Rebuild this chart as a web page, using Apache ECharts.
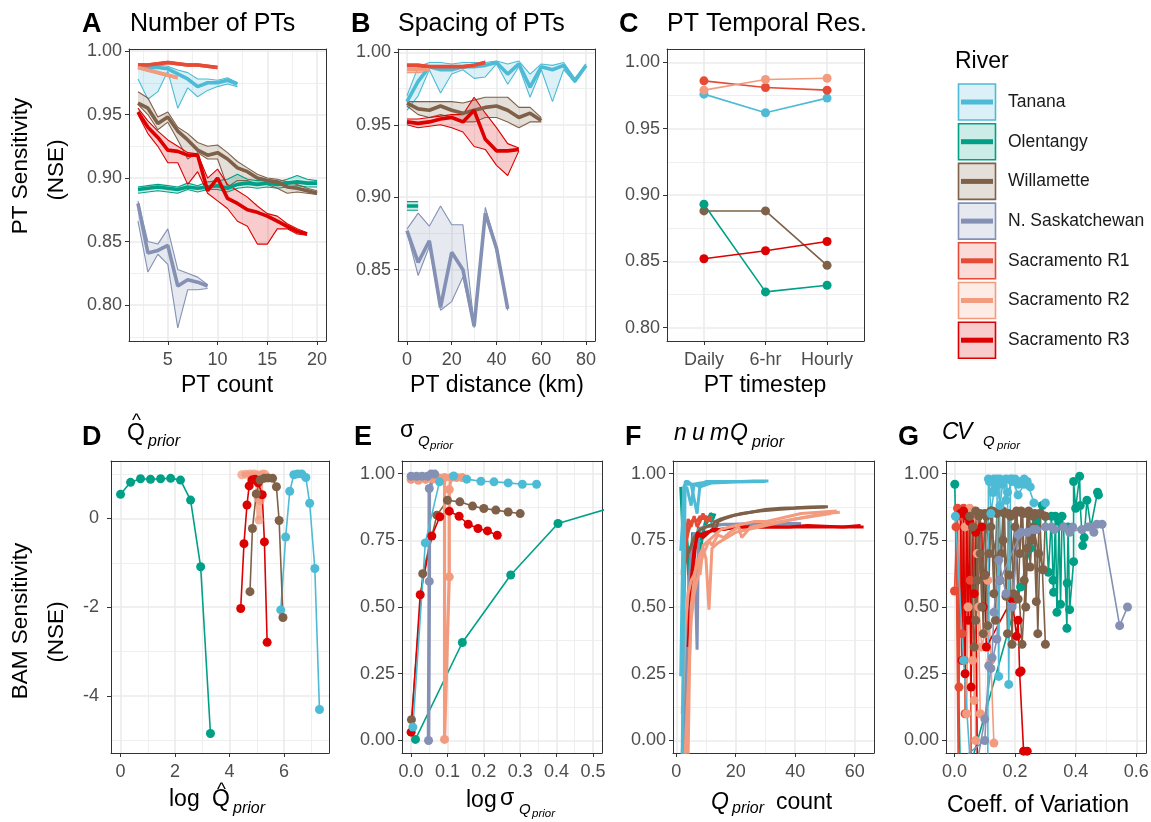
<!DOCTYPE html>
<html>
<head>
<meta charset="utf-8">
<script src="https://cdn.jsdelivr.net/npm/echarts@6/dist/echarts.min.js"></script>
<style>
  html, body { margin: 0; padding: 0; background: #fff; }
  #chart { width: 1151px; height: 822px; }
</style>
</head>
<body>
<div id="chart"></div>
<script>
const FONT = '"Liberation Sans", Arial, sans-serif';

const rivers = ['Tanana', 'Olentangy', 'Willamette', 'N. Saskatchewan', 'Sacramento R1', 'Sacramento R2', 'Sacramento R3'];
const riverColors = ['#4DBBD5', '#00A087', '#7E6148', '#8491B4', '#E64B35', '#F39B7F', '#DC0000'];

// ---- A: number of PTs, rows [count, low, median, high]
const aTanana = [[2,0.978,0.988,0.990],[3,0.962,0.987,0.989],[4,0.968,0.987,0.989],[5,0.984,0.986,0.988],[6,0.955,0.982,0.985],[7,0.971,0.978,0.983],[8,0.964,0.972,0.978],[9,0.969,0.975,0.978],[10,0.972,0.975,0.977],[11,0.974,0.977,0.979],[12,0.972,0.974,0.975]];
const aOlentangy = [[2,0.888,0.891,0.893],[3,0.889,0.892,0.894],[4,0.890,0.893,0.895],[5,0.889,0.892,0.894],[6,0.888,0.891,0.893],[7,0.891,0.893,0.896],[8,0.889,0.892,0.894],[9,0.891,0.893,0.897],[10,0.891,0.894,0.898],[11,0.889,0.892,0.899],[12,0.892,0.895,0.903],[13,0.893,0.896,0.899],[14,0.892,0.895,0.898],[15,0.893,0.896,0.898],[16,0.892,0.895,0.897],[17,0.893,0.896,0.899],[18,0.894,0.897,0.902],[19,0.893,0.896,0.899],[20,0.893,0.896,0.898]];
const aWillamette = [[2,0.958,0.959,0.968],[3,0.950,0.955,0.963],[4,0.938,0.943,0.948],[5,0.944,0.948,0.952],[6,0.930,0.937,0.940],[7,0.915,0.930,0.935],[8,0.920,0.922,0.928],[9,0.915,0.918,0.925],[10,0.915,0.920,0.926],[11,0.893,0.915,0.920],[12,0.898,0.908,0.913],[13,0.898,0.905,0.908],[14,0.895,0.900,0.903],[15,0.895,0.898,0.900],[16,0.892,0.897,0.899],[17,0.888,0.893,0.897],[18,0.889,0.892,0.895],[19,0.888,0.890,0.892],[20,0.887,0.888,0.890]];
const aNSask = [[2,0.866,0.880,0.882],[3,0.826,0.841,0.850],[4,0.840,0.843,0.848],[5,0.832,0.847,0.860],[6,0.782,0.815,0.828],[7,0.812,0.820,0.825],[8,0.812,0.818,0.822],[9,0.813,0.815,0.816]];
const aSacR1 = [[2,0.988,0.989,0.990],[3,0.988,0.989,0.990],[4,0.989,0.990,0.991],[5,0.990,0.991,0.992],[6,0.989,0.990,0.991],[7,0.988,0.989,0.990],[8,0.988,0.989,0.990],[9,0.987,0.988,0.989],[10,0.986,0.987,0.988]];
const aSacR2 = [[2,0.986,0.987,0.988],[3,0.984,0.985,0.986],[4,0.982,0.983,0.984],[5,0.980,0.981,0.982],[6,0.978,0.979,0.980]];
const aSacR3 = [[2,0.950,0.952,0.955],[3,0.935,0.940,0.945],[4,0.925,0.932,0.937],[5,0.912,0.922,0.930],[6,0.912,0.921,0.925],[7,0.895,0.918,0.920],[8,0.905,0.918,0.919],[9,0.888,0.890,0.900],[10,0.882,0.900,0.907],[11,0.876,0.884,0.895],[12,0.866,0.880,0.890],[13,0.862,0.875,0.885],[14,0.848,0.873,0.878],[15,0.848,0.870,0.872],[16,0.860,0.866,0.870],[17,0.860,0.862,0.864],[18,0.856,0.858,0.860],[19,0.855,0.856,0.857]];

// ---- B: spacing of PTs, rows [km, low, median, high]
const bTanana = [[0,0.960,0.966,0.970],[5,0.970,0.980,0.990],[10,0.988,0.990,0.993],[15,0.972,0.988,0.993],[20,0.985,0.988,0.992],[25,0.988,0.990,0.993],[30,0.982,0.990,0.993],[35,0.983,0.991,0.993],[40,0.992,0.993,0.994],[45,0.978,0.985,0.992],[50,0.990,0.992,0.994],[55,0.969,0.976,0.985],[60,0.988,0.990,0.992],[65,0.966,0.988,0.991],[70,0.988,0.991,0.993],[75,0.979,0.980,0.982],[80,0.990,0.991,0.992]];
const bOlentangy = [[0,0.891,0.894,0.897],[5,0.891,0.894,0.897]];
const bWillamette = [[0,0.963,0.965,0.966],[5,0.957,0.961,0.966],[10,0.955,0.960,0.966],[15,0.957,0.963,0.966],[20,0.955,0.960,0.966],[25,0.952,0.958,0.965],[30,0.952,0.960,0.967],[35,0.955,0.962,0.969],[40,0.955,0.963,0.969],[45,0.952,0.960,0.969],[50,0.948,0.955,0.962],[55,0.952,0.958,0.962],[60,0.952,0.953,0.955]];
const bNSask = [[0,0.876,0.877,0.878],[5,0.846,0.855,0.889],[10,0.866,0.870,0.880],[15,0.822,0.824,0.894],[20,0.828,0.862,0.881],[25,0.845,0.850,0.881],[30,0.810,0.811,0.812],[35,0.888,0.889,0.893],[40,0.862,0.865,0.866],[45,0.822,0.823,0.824]];
const bSacR1 = [[0,0.990,0.991,0.992],[5,0.990,0.991,0.992],[10,0.989,0.990,0.991],[15,0.989,0.990,0.991],[20,0.989,0.990,0.991],[25,0.989,0.990,0.991],[30,0.990,0.991,0.992],[35,0.992,0.993,0.994]];
const bSacR2 = [[0,0.986,0.988,0.989],[5,0.986,0.988,0.989],[10,0.987,0.988,0.989]];
const bSacR3 = [[0,0.950,0.952,0.954],[5,0.948,0.951,0.954],[10,0.949,0.952,0.955],[15,0.950,0.954,0.956],[20,0.948,0.955,0.957],[25,0.945,0.952,0.957],[30,0.935,0.960,0.969],[35,0.933,0.940,0.958],[40,0.922,0.932,0.948],[45,0.915,0.932,0.937],[50,0.932,0.933,0.934]];

// ---- C: PT temporal resolution
const cSteps = ['Daily', '6-hr', 'Hourly'];
const cTanana = [0.976, 0.962, 0.973];
const cOlentangy = [0.893, 0.827, 0.832];
const cWillamette = [0.888, 0.888, 0.847];
const cSacR1 = [0.986, 0.981, 0.979];
const cSacR2 = [0.979, 0.987, 0.988];
const cSacR3 = [0.852, 0.858, 0.865];

// ---- D: log Qhat prior, rows [x, NSE]
const dOlentangy = [[0,0.54],[0.367,0.81],[0.734,0.89],[1.10,0.88],[1.47,0.89],[1.84,0.90],[2.20,0.86],[2.57,0.41],[2.94,-1.09],[3.30,-4.84]];
const dTanana = [[5.88,-2.06],[6.06,-0.42],[6.21,0.61],[6.36,0.98],[6.50,1.0],[6.65,1.0],[6.80,0.92],[6.94,0.34],[7.13,-1.13],[7.30,-4.30]];
const dSacR2 = [[4.45,0.98],[4.6,0.99],[4.75,1.0],[4.9,1.0],[5.02,0.98],[5.05,0.45],[5.08,-0.04],[5.12,0.40],[5.15,0.97],[5.22,1.0],[5.30,0.99]];
const dSacR3 = [[4.41,-2.03],[4.53,-0.57],[4.64,0.30],[4.72,0.73],[4.82,0.86],[4.93,0.88],[5.05,0.80],[5.20,0.53],[5.28,-0.53],[5.38,-2.79]];
const dWillamette = [[4.75,-1.65],[4.84,-0.23],[4.98,0.55],[5.12,0.86],[5.27,0.90],[5.42,0.91],[5.58,0.90],[5.72,0.71],[5.82,-0.05],[5.96,-2.23]];

// ---- E: log sigma Q prior
const eOlentangy = [[0.012,0.004],[0.141,0.367],[0.274,0.62],[0.404,0.813],[0.54,0.868]];
const eWillamette = [[0.001,0.078],[0.032,0.625],[0.071,0.844],[0.10,0.90],[0.134,0.894],[0.169,0.878],[0.20,0.869],[0.233,0.863],[0.267,0.856],[0.30,0.85]];
const eSacR3 = [[0,0.031],[0.025,0.546],[0.057,0.766],[0.079,0.838],[0.105,0.859],[0.132,0.84],[0.157,0.81],[0.184,0.794],[0.21,0.785],[0.237,0.769]];
const eSacR2 = [[0,0.978],[0.02,0.975],[0.04,0.978],[0.06,0.98],[0.08,0.982],[0.092,0.985],[0.092,0.004],[0.105,0.613],[0.105,0.94],[0.11,0.985],[0.125,0.985],[0.14,0.985]];
const eNSask = [[0,0.99],[0.015,0.99],[0.03,0.99],[0.045,0.99],[0.055,0.998],[0.065,0.998],[0.05,0.944],[0.05,0.596],[0.048,0.0]];
const eTanana = [[0.005,0.05],[0.039,0.74],[0.078,0.969],[0.117,0.991],[0.153,0.979],[0.192,0.971],[0.228,0.969],[0.267,0.965],[0.306,0.96],[0.345,0.96]];

// ---- F: number of Q prior values
const fOlentangy1 = [[1.5,0.95],[2.5,0.71],[3.5,0.75],[4.5,0.55],[5.5,0.78],[6.5,0.72],[7.5,0.80],[8.5,0.75],[9.5,0.80],[10.5,0.82],[11.5,0.85],[13,0.84]];
const fOlentangy2 = [[2,0.63],[3,0.80],[4,0.70],[5,0.58],[6,0.75],[7,0.76],[8,0.70],[9,0.78],[10,0.83],[12,0.82],[13,0.85]];
const fNSask1 = [[2,-0.05],[3,0.2],[4,0.55],[5,0.7],[6,0.78],[7,0.34],[7.5,0.79],[9,0.80],[12,0.805],[16,0.81],[20,0.81],[25,0.812],[30,0.812],[36,0.813],[42,0.813]];
const fNSask2 = [[3,-0.05],[4,0.45],[5,0.6],[6,0.75],[8,0.79],[10,0.80],[15,0.808],[22,0.81],[30,0.812],[40,0.812]];
const fWillamette1 = [[2,0.63],[4,0.70],[6,0.76],[8,0.79],[10,0.80],[12,0.81],[13,0.78],[14,0.82],[16,0.83],[20,0.845],[25,0.855],[30,0.865],[35,0.87],[40,0.872],[45,0.875],[51,0.876]];
const fWillamette2 = [[12,0.80],[13,0.82],[15,0.83],[18,0.84],[22,0.85],[28,0.86],[34,0.865],[40,0.87],[46,0.873],[50,0.875]];
const fSacR3a = [[4,0.35],[5,0.60],[6,0.72],[7,0.76],[8,0.77],[10,0.78],[14,0.79],[18,0.795],[22,0.80],[28,0.80],[34,0.80],[40,0.80],[46,0.80],[52,0.80],[58,0.80],[63,0.80]];
const fSacR3b = [[5,0.5],[6,0.68],[7,0.78],[9,0.76],[12,0.79],[16,0.79],[20,0.80],[26,0.80],[32,0.80],[38,0.80],[44,0.805],[50,0.803],[56,0.80],[62,0.805]];
const fSacR1a = [[1.5,0.48],[2.5,0.48],[3,0.72],[4,0.78],[5,0.82],[6,0.83],[7,0.82],[8,0.84],[9,0.83],[10,0.84],[11,0.83],[12,0.84]];
const fSacR1b = [[2,0.62],[3,0.75],[4,0.83],[5,0.80],[6,0.84],[7,0.80],[8,0.82],[9,0.85],[10,0.82],[12,0.83]];
const fSacR2a = [[2,0.1],[3,0.43],[4,0.55],[5,0.60],[6,0.62],[7,0.66],[8,0.70],[9,0.72],[10,0.68],[11,0.49],[12,0.72],[14,0.74],[17,0.76],[20,0.78],[24,0.79],[28,0.80],[32,0.81],[36,0.82],[40,0.83],[45,0.84],[50,0.85],[55,0.855]];
const fSacR2b = [[3,-0.05],[4,0.2],[5,0.45],[6,0.55],[7,0.6],[8,0.65],[9,0.7],[10,0.72],[11,0.75],[12,0.73],[14,0.77],[16,0.76],[18,0.78],[21,0.80],[22,0.76],[25,0.80],[30,0.81],[35,0.82],[40,0.83],[46,0.84],[52,0.85]];
const fSacR2c = [[4,-0.05],[4.5,0.3],[5,0.5],[6,0.6],[7,0.68],[8,0.62],[9,0.73],[10,0.74],[12,0.76],[15,0.79],[18,0.80],[22,0.81],[26,0.82],[30,0.82],[34,0.83],[38,0.84],[42,0.85],[48,0.855],[54,0.86]];
const fTanana1 = [[1.5,0.24],[2.5,0.95],[3,0.96],[4,0.96],[6,0.96],[8,0.965],[10,0.965],[14,0.968],[18,0.97],[22,0.97],[26,0.972],[31,0.972]];
const fTanana2 = [[1.5,0.71],[2,0.80],[2.5,0.93],[3.5,0.95],[5,0.88],[6,0.96],[8,0.95],[12,0.965],[20,0.968],[30,0.97]];
const fTanana3 = [[2,-0.05],[2.5,0.50],[3,0.97],[4,0.97],[5,0.96],[7,0.85],[8,0.96],[10,0.97],[16,0.97],[24,0.97]];

// ---- G: coefficient of variation of Q prior
const gWillamette1 = [[0.06,0.80],[0.07,0.45],[0.08,0.84],[0.09,0.50],[0.10,0.85],[0.11,0.43],[0.12,0.86],[0.13,0.55],[0.14,0.85],[0.15,0.60],[0.16,0.86],[0.17,0.54],[0.18,0.85],[0.19,0.36],[0.20,0.85],[0.21,0.53],[0.22,0.86],[0.23,0.60],[0.24,0.85],[0.25,0.65],[0.26,0.84],[0.27,0.52],[0.28,0.85],[0.29,0.64],[0.30,0.36]];
const gWillamette2 = [[0.05,0.84],[0.065,0.35],[0.085,0.70],[0.10,0.62],[0.12,0.80],[0.14,0.68],[0.16,0.75],[0.18,0.62],[0.20,0.80],[0.223,0.36],[0.24,0.72],[0.26,0.80],[0.278,0.70],[0.294,0.64],[0.30,0.84]];
const gWillamette3 = [[0.07,0.86],[0.075,0.60],[0.085,0.85],[0.095,0.40],[0.105,0.84],[0.115,0.70],[0.125,0.86],[0.135,0.45],[0.145,0.86],[0.155,0.70],[0.165,0.85],[0.175,0.40],[0.185,0.84],[0.195,0.55],[0.205,0.86],[0.215,0.70],[0.225,0.85],[0.235,0.50],[0.245,0.86],[0.255,0.75],[0.265,0.85],[0.275,0.40],[0.285,0.85]];
const gOlentangy1 = [[0.001,0.96],[0.018,-0.05]];
const gOlentangy2 = [[0.064,-0.05],[0.218,0.575],[0.25,0.72],[0.27,0.82],[0.29,0.88]];
const gOlentangy3 = [[0.30,0.84],[0.31,0.63],[0.32,0.84],[0.325,0.60],[0.327,0.555],[0.333,0.84],[0.338,0.48],[0.345,0.82],[0.35,0.51],[0.355,0.84]];
const gOlentangy4 = [[0.36,0.80],[0.371,0.42],[0.372,0.59],[0.375,0.80],[0.38,0.49],[0.393,0.67],[0.393,0.97],[0.40,0.87],[0.413,0.99],[0.415,0.88],[0.423,0.73],[0.428,0.76],[0.437,0.90],[0.45,0.80],[0.472,0.93],[0.475,0.92]];
const gSacR1a = [[0.0,0.56],[0.01,0.87],[0.015,0.2],[0.02,0.86],[0.025,0.4],[0.03,0.87],[0.035,0.1],[0.04,0.86],[0.045,0.5],[0.05,0.85],[0.055,-0.05]];
const gSacR1b = [[0.005,0.8],[0.012,-0.05],[0.022,0.84],[0.032,0.3],[0.042,0.85],[0.052,0.6]];
const gSacR2a = [[0.03,0.85],[0.04,0.1],[0.05,0.87],[0.06,0.3],[0.065,0.86],[0.07,0.0],[0.075,0.84],[0.08,0.5],[0.09,0.35],[0.10,0.40],[0.11,0.60],[0.12,0.30],[0.13,-0.01]];
const gSacR2b = [[0.035,0.80],[0.045,0.50],[0.055,0.85],[0.065,0.15],[0.075,0.7],[0.085,0.1]];
const gSacR3a = [[0.02,0.85],[0.025,0.3],[0.03,0.86],[0.035,0.25],[0.04,0.84],[0.045,0.45],[0.05,0.82],[0.055,0.2],[0.06,0.80],[0.065,0.55],[0.07,0.78],[0.075,-0.05]];
const gSacR3b = [[0.09,0.80],[0.095,0.50],[0.10,0.62],[0.105,0.35],[0.19,0.53],[0.205,0.39],[0.21,0.45],[0.215,0.255],[0.22,0.26],[0.228,-0.04],[0.24,-0.04]];
const gNSask1 = [[0.045,-0.05],[0.10,0.0],[0.113,0.28],[0.124,0.31],[0.13,0.48],[0.146,0.675],[0.17,0.55],[0.19,0.50],[0.21,0.77],[0.24,0.78],[0.27,0.79],[0.30,0.80],[0.33,0.79],[0.36,0.80],[0.39,0.80],[0.42,0.79],[0.45,0.80],[0.47,0.81],[0.487,0.81],[0.545,0.43],[0.571,0.50]];
const gNSask2 = [[0.08,-0.05],[0.1,0.08],[0.12,0.27],[0.14,0.38],[0.15,0.60],[0.22,0.78],[0.26,0.79],[0.32,0.80],[0.38,0.78],[0.44,0.80],[0.46,0.78]];
const gTanana1 = [[0.003,0.84],[0.03,0.30],[0.05,-0.05]];
const gTanana2 = [[0.11,-0.05],[0.112,0.98],[0.12,0.97],[0.125,0.93],[0.13,0.98],[0.135,0.95],[0.14,0.98],[0.146,0.24],[0.15,0.98],[0.16,0.96],[0.17,0.98],[0.175,0.93],[0.179,0.21],[0.185,0.98],[0.19,0.97],[0.20,0.98],[0.21,0.96],[0.22,0.97],[0.23,0.98],[0.24,0.97],[0.262,0.89],[0.30,0.89]];
const gTanana3 = [[0.115,0.97],[0.12,0.85],[0.13,0.93],[0.14,0.97],[0.15,0.88],[0.16,0.97],[0.17,0.90],[0.19,0.98],[0.21,0.92],[0.23,0.96],[0.25,0.95]];

// ---- tick values
const nseTicks = [0.80, 0.85, 0.90, 0.95, 1.00];
const nseMinor = [0.775, 0.825, 0.875, 0.925, 0.975];
const unitTicks = [0, 0.25, 0.5, 0.75, 1];
const unitMinor = [0.125, 0.375, 0.625, 0.875];

// ---------------------------------------------------------------
const col = name => riverColors[rivers.indexOf(name)];
function fade(hex, a) {
  const n = parseInt(hex.slice(1), 16);
  return 'rgba(' + (n >> 16) + ',' + ((n >> 8) & 255) + ',' + (n & 255) + ',' + a + ')';
}
const f2 = v => v.toFixed(2);
const f1 = v => v.toFixed(1);
const f0 = v => String(v);

const grids = [
  { left: 129, top: 49, width: 197, height: 292 },
  { left: 398, top: 49, width: 197, height: 292 },
  { left: 667, top: 49, width: 197, height: 292 },
  { left: 111, top: 461, width: 218, height: 292 },
  { left: 402, top: 461, width: 200, height: 292 },
  { left: 673, top: 461, width: 201, height: 292 },
  { left: 946, top: 461, width: 200, height: 292 }
];

// [min, max, major ticks, minor ticks, formatter, label margin] per panel
const xSpecs = [
  [1.1, 20.9, [5, 10, 15, 20], [2.5, 7.5, 12.5, 17.5], f0, 10],
  [-4, 84, [0, 20, 40, 60, 80], [10, 30, 50, 70], f0, 10],
  [0.4, 3.6, [1, 2, 3], [], v => cSteps[Math.round(v) - 1], 10],
  [-0.35, 7.65, [0, 2, 4, 6], [1, 3, 5, 7], f0, 10],
  [-0.025, 0.525, [0, 0.1, 0.2, 0.3, 0.4, 0.5], [0.05, 0.15, 0.25, 0.35, 0.45], f1, 10],
  [-1.1, 66.5, [0, 20, 40, 60], [10, 30, 50], f0, 10],
  [-0.028, 0.632, [0, 0.2, 0.4, 0.6], [0.1, 0.3, 0.5], f1, 10]
];
const ySpecs = [
  [0.7717, 1.0016, nseTicks, nseMinor, f2, 7],
  [0.8008, 1.0023, nseTicks.slice(1), nseMinor.slice(1), f2, 7],
  [0.79, 1.01, nseTicks, nseMinor, f2, 7],
  [-5.28, 1.29, [-4, -2, 0], [-5, -3, -1, 1], f0, 12],
  [-0.047, 1.047, unitTicks, unitMinor, f2, 7],
  [-0.047, 1.047, unitTicks, unitMinor, f2, 7],
  [-0.047, 1.047, unitTicks, unitMinor, f2, 7]
];

function axisPair(g, dim, spec) {
  const [min, max, major, minor, fmt, margin] = spec;
  const border = { show: true, onZero: false, lineStyle: { color: '#333333', width: 1 } };
  const main = {
    type: 'value', gridIndex: g, min, max, silent: true,
    position: dim === 'x' ? 'bottom' : 'left',
    axisLine: border,
    axisTick: { show: true, length: 4, customValues: major, lineStyle: { color: '#333333', width: 1 } },
    axisLabel: { show: true, customValues: major, formatter: fmt, color: '#4D4D4D', fontSize: 18, fontFamily: FONT, margin },
    splitLine: { show: true, lineStyle: { color: '#EBEBEB', width: 1.6 } }
  };
  const sub = {
    type: 'value', gridIndex: g, min, max, silent: true,
    position: dim === 'x' ? 'top' : 'right',
    axisLine: border,
    axisTick: { show: false, customValues: minor },
    axisLabel: { show: false },
    splitLine: { show: minor.length > 0, lineStyle: { color: '#EBEBEB', width: 0.8 } }
  };
  return [main, sub];
}

const xAxis = [], yAxis = [];
grids.forEach((g, i) => {
  xAxis.push(...axisPair(i, 'x', xSpecs[i]));
  yAxis.push(...axisPair(i, 'y', ySpecs[i]));
});

const series = [];
function lineS(g, data, color, width, z, sym, opacity) {
  return {
    type: 'line', xAxisIndex: 2 * g, yAxisIndex: 2 * g, data, z, silent: true,
    showSymbol: !!sym, symbol: 'circle', symbolSize: sym || 0,
    itemStyle: { color, opacity: opacity || 1 },
    lineStyle: { color, width, opacity: opacity || 1 },
    emphasis: { disabled: true }
  };
}
function addRibbon(g, name, rows) {
  const c = col(name);
  series.push({
    type: 'custom', xAxisIndex: 2 * g, yAxisIndex: 2 * g, z: 1, silent: true,
    data: [[rows[0][0], rows[0][2]]],
    renderItem: function (params, api) {
      const up = rows.map(r => api.coord([r[0], r[3]]));
      const dn = rows.slice().reverse().map(r => api.coord([r[0], r[1]]));
      return { type: 'polygon', shape: { points: up.concat(dn) }, style: { fill: fade(c, 0.2), stroke: null } };
    }
  });
  series.push(lineS(g, rows.map(r => [r[0], r[1]]), c, 1.1, 2));
  series.push(lineS(g, rows.map(r => [r[0], r[3]]), c, 1.1, 2));
}
function addMedian(g, name, rows) {
  series.push(lineS(g, rows.map(r => [r[0], r[2]]), col(name), 3.6, 3));
}

// A and B
const aSets = [['Tanana', aTanana], ['Olentangy', aOlentangy], ['Willamette', aWillamette], ['N. Saskatchewan', aNSask], ['Sacramento R1', aSacR1], ['Sacramento R2', aSacR2], ['Sacramento R3', aSacR3]];
const bSets = [['Tanana', bTanana], ['Olentangy', bOlentangy], ['Willamette', bWillamette], ['N. Saskatchewan', bNSask], ['Sacramento R1', bSacR1], ['Sacramento R2', bSacR2], ['Sacramento R3', bSacR3]];
aSets.forEach(s => addRibbon(0, s[0], s[1]));
aSets.forEach(s => addMedian(0, s[0], s[1]));
bSets.forEach(s => addRibbon(1, s[0], s[1]));
bSets.forEach(s => addMedian(1, s[0], s[1]));

// C
[['Tanana', cTanana], ['Willamette', cWillamette], ['Olentangy', cOlentangy], ['Sacramento R1', cSacR1], ['Sacramento R2', cSacR2], ['Sacramento R3', cSacR3]]
  .forEach(s => series.push(lineS(2, s[1].map((v, i) => [i + 1, v]), col(s[0]), 1.6, 3, 9)));

// D
series.push(lineS(3, dOlentangy, col('Olentangy'), 1.6, 3, 9));
series.push(lineS(3, dTanana, col('Tanana'), 1.6, 3, 9));
series.push(lineS(3, dSacR2, col('Sacramento R2'), 5, 3, 9, 0.75));
series.push(lineS(3, dSacR3, col('Sacramento R3'), 1.6, 3, 9));
series.push(lineS(3, dWillamette, col('Willamette'), 1.6, 3, 9));

// E
series.push(lineS(4, eOlentangy, col('Olentangy'), 1.6, 3, 9));
series.push(lineS(4, eWillamette, col('Willamette'), 1.6, 3, 9));
series.push(lineS(4, eSacR3, col('Sacramento R3'), 1.6, 3, 9));
series.push(lineS(4, eSacR2, col('Sacramento R2'), 3.2, 3, 9));
series.push(lineS(4, eNSask, col('N. Saskatchewan'), 3.6, 3, 9));
series.push(lineS(4, eTanana, col('Tanana'), 1.6, 3, 9));

// F
[['Olentangy', [fOlentangy1, fOlentangy2]], ['N. Saskatchewan', [fNSask1, fNSask2]], ['Willamette', [fWillamette1, fWillamette2]],
 ['Sacramento R3', [fSacR3a, fSacR3b]], ['Sacramento R1', [fSacR1a, fSacR1b]], ['Sacramento R2', [fSacR2a, fSacR2b, fSacR2c]],
 ['Tanana', [fTanana1, fTanana2, fTanana3]]]
  .forEach(s => s[1].forEach(d => series.push(lineS(5, d, col(s[0]), 3, 3))));

// G
[['Olentangy', [gOlentangy1, gOlentangy2, gOlentangy3, gOlentangy4]], ['Sacramento R1', [gSacR1a, gSacR1b]],
 ['Sacramento R2', [gSacR2a, gSacR2b]], ['Sacramento R3', [gSacR3a, gSacR3b]],
 ['Willamette', [gWillamette1, gWillamette2, gWillamette3]], ['N. Saskatchewan', [gNSask1, gNSask2]],
 ['Tanana', [gTanana1, gTanana2, gTanana3]]]
  .forEach(s => s[1].forEach(d => series.push(lineS(6, d, col(s[0]), 1.6, 3, 9))));

// ---- text and legend drawn as graphic elements
function txt(x, y, text, size, extra, styleExtra) {
  return Object.assign({
    type: 'text', x, y, silent: true,
    style: Object.assign({ text, fontSize: size, fontFamily: FONT, fill: '#000', align: 'left', verticalAlign: 'middle' }, styleExtra || {})
  }, extra || {});
}
const it = { fontStyle: 'italic' };
const ctr = { align: 'center' };
const bold = { fontWeight: 'bold' };
const graphics = [
  // panel tags
  txt(82, 25, 'A', 27, null, bold), txt(351, 25, 'B', 27, null, bold), txt(619, 25, 'C', 27, null, bold),
  txt(82, 438, 'D', 27, null, bold), txt(354, 438, 'E', 27, null, bold), txt(625, 438, 'F', 27, null, bold), txt(898, 438, 'G', 27, null, bold),
  // panel titles
  txt(130, 24, 'Number of PTs', 25), txt(398, 24, 'Spacing of PTs', 25), txt(667, 24, 'PT Temporal Res.', 25),
  txt(136.5, 421, '^', 19, null, ctr), txt(127, 434, 'Q', 23), txt(148, 442, 'prior', 16, null, it),
  txt(400, 431, 'σ', 23), txt(418, 442, 'Q', 15, null, it), txt(430, 446, 'prior', 11.5, null, it),
  txt(674, 434, 'n', 23, null, it), txt(692, 434, 'u', 23, null, it), txt(710, 434, 'm', 23, null, it), txt(730, 434, 'Q', 23, null, it),
  txt(752, 443, 'prior', 16, null, it),
  txt(942, 433, 'C', 23, null, it), txt(957, 433, 'V', 23, null, it), txt(983, 442, 'Q', 15, null, it), txt(997, 446, 'prior', 11.5, null, it),
  // x axis titles
  txt(227, 386, 'PT count', 23, null, ctr), txt(497, 386, 'PT distance (km)', 23, null, ctr), txt(765, 386, 'PT timestep', 23, null, ctr),
  txt(169, 800, 'log', 23), txt(221.5, 790, '^', 19, null, ctr), txt(212, 800, 'Q', 23), txt(233, 809, 'prior', 16, null, it),
  txt(466, 801, 'log', 23), txt(500, 799, 'σ', 23), txt(519, 810, 'Q', 15, null, it), txt(532, 814, 'prior', 11.5, null, it),
  txt(711, 803, 'Q', 23, null, it), txt(732, 809, 'prior', 16, null, it), txt(776, 803, 'count', 23),
  txt(1038, 806, 'Coeff. of Variation', 23, null, ctr),
  // y axis titles
  txt(0, 0, 'PT Sensitivity', 22.5, { x: 21, y: 166, rotation: Math.PI / 2 }, ctr),
  txt(0, 0, '(NSE)', 22.5, { x: 57, y: 170, rotation: Math.PI / 2 }, ctr),
  txt(0, 0, 'BAM Sensitivity', 22.5, { x: 21, y: 621, rotation: Math.PI / 2 }, ctr),
  txt(0, 0, '(NSE)', 22.5, { x: 57, y: 632, rotation: Math.PI / 2 }, ctr),
  // legend title
  txt(955, 62, 'River', 23)
];
rivers.forEach((r, i) => {
  const c = riverColors[i];
  const cy = 102 + i * 39.7;
  graphics.push({ type: 'rect', silent: true, shape: { x: 958.5, y: cy - 18, width: 37, height: 36 }, style: { fill: fade(c, 0.2), stroke: c, lineWidth: 1.6 } });
  graphics.push({ type: 'line', silent: true, shape: { x1: 961, y1: cy, x2: 993, y2: cy }, style: { stroke: c, lineWidth: 5 } });
  graphics.push(txt(1008, cy, r, 17.5, null, { fill: '#1A1A1A' }));
});

const chart = echarts.init(document.getElementById('chart'), null, { renderer: 'canvas' });
chart.setOption({
  animation: false,
  backgroundColor: '#FFFFFF',
  textStyle: { fontFamily: FONT },
  grid: grids.map(g => Object.assign({ show: false, containLabel: false, outerBoundsMode: 'none' }, g)),
  xAxis, yAxis, series,
  graphic: { elements: graphics }
});
</script>
</body>
</html>
